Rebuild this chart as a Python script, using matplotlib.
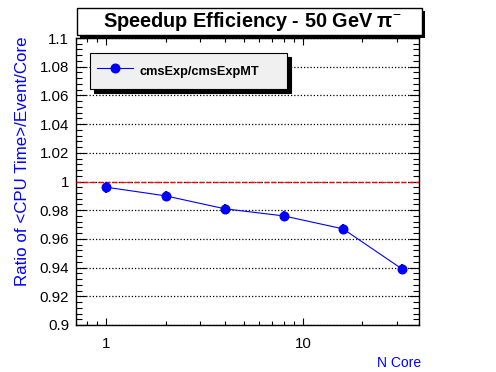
import matplotlib
matplotlib.use("Agg")
import matplotlib.pyplot as plt
from matplotlib.patches import Rectangle
from matplotlib.ticker import MultipleLocator, FuncFormatter, LogLocator, NullFormatter, FixedLocator

plt.rcParams['font.family'] = ['Liberation Sans', 'DejaVu Sans']
plt.rcParams['mathtext.fontset'] = 'custom'
plt.rcParams['mathtext.rm'] = 'Liberation Sans'
plt.rcParams['mathtext.bf'] = 'Liberation Sans:bold'

# ---- data ----
n_core = [1, 2, 4, 8, 16, 32]
ratio = [0.996, 0.990, 0.981, 0.976, 0.967, 0.939]
ratio_err = [0.0038, 0.0036, 0.0036, 0.0036, 0.0036, 0.0038]
series_label = "cmsExp/cmsExpMT"
title = "Speedup Efficiency - 50 GeV π$^{\\mathrm{-}}$"
xlabel = "N Core"
ylabel = "Ratio of <CPU Time>/Event/Core"

W, H = 496, 372
fig = plt.figure(figsize=(W / 100, H / 100), dpi=100)
fig.patch.set_facecolor('white')

L, R, T, B = 76, 419, 38, 325
ax = fig.add_axes([L / W, 1 - B / H, (R - L) / W, (B - T) / H])

ax.set_xscale('log')
ax.set_xlim(0.7, 39)
ax.set_ylim(0.9, 1.1)

ax.yaxis.set_major_locator(MultipleLocator(0.02))
ax.yaxis.set_minor_locator(MultipleLocator(0.004))
ax.yaxis.set_major_formatter(FuncFormatter(lambda v, p: '%g' % round(v, 4)))
ax.xaxis.set_major_locator(FixedLocator([1, 10]))
ax.xaxis.set_major_formatter(FuncFormatter(lambda v, p: '%g' % v))
ax.xaxis.set_minor_locator(LogLocator(base=10, subs=range(2, 10)))
ax.xaxis.set_minor_formatter(NullFormatter())

ax.tick_params(axis='both', which='both', direction='in', top=True, right=True,
               labelsize=10.8, width=0.8, colors='black')
ax.tick_params(axis='y', which='major', length=7, pad=5)
ax.tick_params(axis='y', which='minor', length=4)
ax.tick_params(axis='x', which='major', length=5, pad=8.5)
ax.tick_params(axis='x', which='minor', length=3)
for s in ax.spines.values():
    s.set_linewidth(1.0)

ax.grid(axis='y', which='major', linestyle=(0, (1, 1.6)), color='black', linewidth=0.9)
ax.axhline(1.0, color='red', linestyle=(0, (3.6, 1.6)), linewidth=1.0, zorder=3)

ax.errorbar(n_core, ratio, yerr=ratio_err, fmt='none', ecolor='blue', elinewidth=1.6, capsize=0, zorder=4)
h, = ax.plot(n_core, ratio, '-o', color='blue', lw=0.8, markersize=6.2, zorder=5, label=series_label)

ax.set_xlabel(xlabel, color='blue', fontsize=10, loc='right')
ax.xaxis.set_label_coords((421 - L) / (R - L), -(356 - B) / (B - T))
ax.set_ylabel(ylabel, color='blue', fontsize=12.2, loc='top')
ax.yaxis.set_label_coords(-(L - 30) / (R - L), (B - 36) / (B - T))

leg = ax.legend(handles=[h], loc='upper left',
                bbox_to_anchor=(90 / W, 1 - 97 / H, (287 - 90) / W, (97 - 53) / H),
                bbox_transform=fig.transFigure, mode='expand',
                fancybox=False, framealpha=1, facecolor='#f0f0f0', edgecolor='black',
                borderpad=0.55, handlelength=2.8, handleheight=2.3, handletextpad=0.55,
                borderaxespad=0,
                prop={'weight': 'bold', 'size': 9.2},
                shadow={'ox': 3, 'oy': -3, 'color': 'black', 'alpha': 1})
leg.get_frame().set_linewidth(0.8)

# title box with shadow (figure pixel coords)
ov = fig.add_axes([0, 0, 1, 1], zorder=10)
ov.set_xlim(0, W)
ov.set_ylim(H, 0)
ov.axis('off')
ov.add_patch(Rectangle((80, 11), 345, 27, facecolor='black', edgecolor='none'))
ov.add_patch(Rectangle((77, 8), 345, 27, facecolor='white', edgecolor='black', linewidth=1.0))
ov.text(252, 21.5, title, ha='center', va='center', fontsize=14.3, fontweight='bold')

fig.savefig('out.png', dpi=100)
